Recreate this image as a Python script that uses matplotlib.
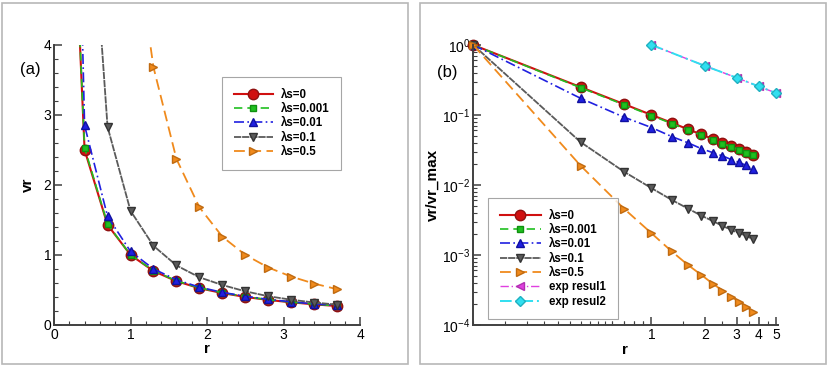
import matplotlib.pyplot as plt
from matplotlib.patches import Rectangle
from matplotlib.ticker import FixedLocator, LogLocator, NullFormatter, MultipleLocator

plt.rcParams['font.family'] = ['Liberation Sans', 'DejaVu Sans']

# radial positions of the data points
r = [0.1, 0.4, 0.7, 1.0, 1.3, 1.6, 1.9, 2.2, 2.5, 2.8, 3.1, 3.4, 3.7]

# (a) vr for each slip length
vr_0 = [10.0, 2.5, 1.43, 1.0, 0.77, 0.625, 0.525, 0.455, 0.40, 0.357, 0.323, 0.294, 0.27]
vr_0001 = [10.1, 2.53, 1.44, 1.0, 0.775, 0.63, 0.53, 0.46, 0.405, 0.36, 0.326, 0.297, 0.272]
vr_001 = [16.5, 2.85, 1.55, 1.05, 0.80, 0.645, 0.54, 0.465, 0.41, 0.365, 0.33, 0.30, 0.28]
vr_01 = [182.0, 7.5, 2.83, 1.63, 1.13, 0.85, 0.68, 0.57, 0.48, 0.41, 0.36, 0.32, 0.29]
vr_05 = [2900.0, 56.0, 13.5, 6.0, 3.68, 2.37, 1.68, 1.26, 1.0, 0.82, 0.69, 0.59, 0.51]

# (b) vr / vr_max
rat_0 = [1.0, 0.25, 0.143, 0.1, 0.077, 0.0625, 0.0526, 0.0455, 0.04, 0.0357, 0.0323, 0.0294, 0.027]
rat_0001 = [1.0, 0.245, 0.140, 0.098, 0.075, 0.061, 0.0515, 0.0445, 0.039, 0.035, 0.0315, 0.0288, 0.0265]
rat_001 = [1.0, 0.173, 0.093, 0.066, 0.049, 0.040, 0.033, 0.029, 0.026, 0.023, 0.021, 0.019, 0.0167]
rat_01 = [1.0, 0.041, 0.0155, 0.0090, 0.0061, 0.0046, 0.00365, 0.00306, 0.0026, 0.00228, 0.00204, 0.00187, 0.00168]
rat_05 = [1.0, 0.0189, 0.0046, 0.00204, 0.00112, 0.00072, 0.00052, 0.00039, 0.00031, 0.00025, 0.000215, 0.000182, 0.000155]

# experimental results
exp_r = [1, 2, 3, 4, 5]
exp1 = [1.0, 0.5, 0.34, 0.255, 0.205]
exp2 = [1.0, 0.5, 0.34, 0.255, 0.205]

labels = ['λs=0', 'λs=0.001', 'λs=0.01', 'λs=0.1', 'λs=0.5']
styles = [
    dict(color='#d01010', ls='-', lw=1.5, marker='o', ms=7.5, mec='#901010'),
    dict(color='#20c020', ls=(0, (5, 3)), lw=1.2, marker='s', ms=5, mec='#109010'),
    dict(color='#2020e0', ls=(0, (6, 2, 1, 2)), lw=1.2, marker='^', ms=5.5, mec='#1010a0'),
    dict(color='#5a5a5a', ls=(0, (4, 0.5)), lw=1.3, marker='v', ms=5.5, mec='#333333'),
    dict(color='#f08a1c', ls=(0, (6, 3)), lw=1.3, marker='>', ms=5.5, mec='#c06a10'),
]
exp_styles = [
    dict(color='#e040e0', ls=(0, (6, 2, 1, 2)), lw=1.0, marker='<', ms=5.5, mec='#b030b0'),
    dict(color='#30dff0', ls=(0, (6, 2, 1, 2)), lw=1.4, marker='D', ms=5.5, mec='#20b0c0'),
]

fig = plt.figure(figsize=(8.3, 3.68), dpi=100)

# panel frames
for x0 in (0.003, 0.506):
    fig.patches.append(Rectangle((x0, 0.01), 0.489, 0.982, transform=fig.transFigure,
                                 fill=False, ec='#b8b8b8', lw=1.2))


def style_axes(ax):
    for s in ('top', 'right'):
        ax.spines[s].set_visible(False)
    for s in ('left', 'bottom'):
        ax.spines[s].set_color('#404040')
        ax.spines[s].set_linewidth(1.4)
    ax.tick_params(which='both', direction='in', colors='#404040', labelcolor='black',
                   labelsize=10, pad=2)
    ax.tick_params(which='major', length=6, width=1.1)
    ax.tick_params(which='minor', length=3, width=0.8)


# (a)
ax1 = fig.add_axes([0.065, 0.117, 0.369, 0.761])
for y, lab, st in zip([vr_0, vr_0001, vr_001, vr_01, vr_05], labels, styles):
    ax1.plot(r, y, label=lab, **st)
ax1.set_xlim(0, 4)
ax1.set_ylim(0, 4)
ax1.xaxis.set_major_locator(MultipleLocator(1))
ax1.xaxis.set_minor_locator(MultipleLocator(0.2))
ax1.yaxis.set_major_locator(MultipleLocator(1))
ax1.yaxis.set_minor_locator(MultipleLocator(0.2))
style_axes(ax1)
ax1.set_xlabel('r', fontweight='bold', fontsize=11, labelpad=0)
ax1.set_ylabel('vr', fontweight='bold', fontsize=11, labelpad=6)
fig.text(0.024, 0.80, '(a)', fontsize=12)
leg1 = ax1.legend(loc='upper left', bbox_to_anchor=(0.53, 0.905), numpoints=1,
                  handlelength=3.4, prop={'weight': 'bold', 'size': 8.3},
                  fancybox=False, edgecolor='#909090', borderpad=1.0, labelspacing=0.2,
                  handletextpad=0.7)
leg1.get_frame().set_linewidth(0.8)

# (b)
ax2 = fig.add_axes([0.570, 0.117, 0.367, 0.761])
for y, lab, st in zip([rat_0, rat_0001, rat_001, rat_01, rat_05], labels, styles):
    ax2.plot(r, y, label=lab, clip_on=False, **st)
ax2.plot(exp_r, exp1, label='exp resul1', clip_on=False, **exp_styles[0])
ax2.plot(exp_r, exp2, label='exp resul2', clip_on=False, **exp_styles[1])
ax2.set_xscale('log')
ax2.set_yscale('log')
ax2.set_xlim(0.1, 5.1)
ax2.set_ylim(1e-4, 1.0)
ax2.xaxis.set_major_locator(FixedLocator([1, 2, 3, 4, 5]))
ax2.xaxis.set_major_formatter(plt.FixedFormatter(['1', '2', '3', '4', '5']))
ax2.xaxis.set_minor_locator(LogLocator(base=10, subs=[0.1, 0.2, 0.3, 0.4, 0.5, 0.6, 0.7, 0.8, 0.9,
                                                     1.5, 2.5, 3.5, 4.5, 5.5, 6, 7, 8, 9]))
ax2.xaxis.set_minor_formatter(NullFormatter())
ax2.yaxis.set_major_locator(LogLocator(base=10, numticks=10))
ax2.yaxis.set_minor_locator(LogLocator(base=10, subs=range(2, 10), numticks=10))
style_axes(ax2)
ax2.set_xlabel('r', fontweight='bold', fontsize=11, labelpad=1)
ax2.set_ylabel('vr/vr_max', fontweight='bold', fontsize=11, labelpad=2)
fig.text(0.526, 0.79, '(b)', fontsize=12)
leg2 = ax2.legend(loc='lower left', bbox_to_anchor=(0.03, 0.0), numpoints=1,
                  handlelength=3.6, prop={'weight': 'bold', 'size': 8.3},
                  fancybox=False, edgecolor='#909090', borderpad=1.0, labelspacing=0.2,
                  handletextpad=0.7)
leg2.get_frame().set_linewidth(0.8)

fig.savefig('out.png', dpi=100)
